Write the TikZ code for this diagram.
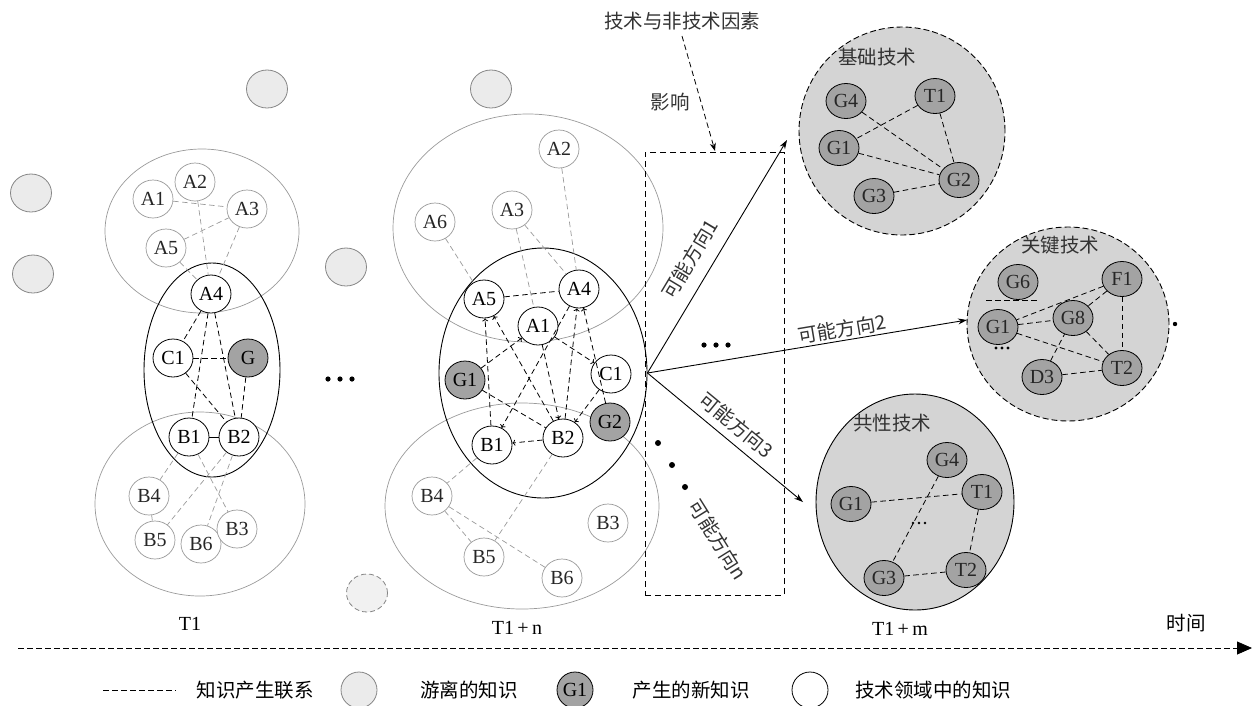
\documentclass[tikz,border=0pt]{standalone}
\usepackage{fontspec}
\setmainfont{Liberation Serif}
\newfontfamily\cjk{Noto Sans CJK SC}
\usetikzlibrary{shapes.geometric,arrows.meta}
\definecolor{freefill}{HTML}{EBEBEB}
\definecolor{freeline}{HTML}{858585}
\definecolor{softline}{HTML}{9A9A9A}
\definecolor{newfill}{HTML}{A3A3A3}
\definecolor{techfill}{HTML}{D4D4D4}
\tikzset{
  lbl/.style={font=\fontsize{20}{22}\selectfont},
  zh/.style={font=\cjk\fontsize{19.5}{21}\selectfont, text=black!80},
  know/.style={ellipse, draw=black, line width=0.8pt, minimum width=40pt, minimum height=38pt, inner sep=0pt, lbl, fill=white},
  far/.style={ellipse, draw=softline, line width=0.7pt, minimum width=40pt, minimum height=38pt, inner sep=0pt, lbl, fill=white, text=black!85},
  newk/.style={know, fill=newfill},
  tech/.style={ellipse, draw=black, line width=0.8pt, minimum width=40pt, minimum height=35pt, inner sep=0pt, lbl, fill=newfill, text=black!85},
  free/.style={ellipse, draw=freeline, line width=0.8pt, fill=freefill, minimum width=41pt, minimum height=38pt},
  field/.style={ellipse, draw=softline, line width=0.7pt, inner sep=0pt},
  core/.style={ellipse, draw=black, line width=0.9pt, inner sep=0pt},
  techzone/.style={ellipse, draw=black, line width=0.9pt, fill=techfill, inner sep=0pt},
  link/.style={draw=black, line width=0.8pt, dash pattern=on 5.5pt off 3.5pt},
  glink/.style={draw=softline, line width=0.7pt, dash pattern=on 5.5pt off 3.5pt},
  tipend/.style={-{To[length=3pt,width=6pt]}},
  way/.style={draw=black, line width=0.9pt, -{Stealth[length=9pt,width=6pt]}},
}
\begin{document}
\begin{tikzpicture}[x=1pt,y=-1pt]
\useasboundingbox (0,0) rectangle (1252,705);

% ---------- stray knowledge ----------
\node[free] (f1) at (31,193) {};
\node[free] (f2) at (33,274) {};
\node[free] (f3) at (346,267) {};
\node[free] (f4) at (267,89) {};
\node[free] (f5) at (491,89) {};
\node[free, dash pattern=on 5pt off 3pt, fill=freefill!70] (f6) at (367,593) {};

% ---------- stage T1 ----------
\node[field, minimum width=194pt, minimum height=164pt] (lA) at (202,231) {};
\node[field, minimum width=210pt, minimum height=184pt] (lB) at (200,504) {};
\node[core, minimum width=136pt, minimum height=214pt] (lC) at (212,370) {};

\node[far] (lA1) at (153,199) {A1};
\node[far] (lA2) at (195,182) {A2};
\node[far] (lA3) at (247,209) {A3};
\node[far] (lA5) at (166,248) {A5};
\node[know] (lA4) at (211,294) {A4};
\node[know] (lC1) at (173,358) {C1};
\node[newk] (lG) at (248,358) {G};
\node[know] (lB1) at (189,437) {B1};
\node[know] (lB2) at (239,437) {B2};
\node[far] (lB4) at (149,496) {B4};
\node[far] (lB5) at (155,540) {B5};
\node[far] (lB6) at (201,544) {B6};
\node[far] (lB3) at (237,529) {B3};

\draw[glink] (lA1) -- (lA3);
\draw[glink] (lA2) -- (lA4);
\draw[glink] (lA5) -- (lA3);
\draw[glink] (lA3) -- (lA4);
\draw[glink] (lA5) -- (lA4);
\draw[link] (lA4) -- (lC1);
\draw[link] (lA4) -- (lB1);
\draw[link] (lA4) -- (lB2);
\draw[link] (lC1) -- (lG);
\draw[link] (lC1) -- (lB2);
\draw[link] (lG) -- (lB2);
\draw[black, line width=0.8pt] (lB1) -- (lB2);
\draw[glink] (lB1) -- (lB4);
\draw[glink] (lB1) -- (lB3);
\draw[glink] (lB2) -- (lB5);
\draw[glink] (lB2) -- (lB6);
\draw[glink] (lB4) -- (lB5);

\node[lbl] (tA) at (190,624) {T1};
\fill (328,379) circle (2.6pt) (340,379) circle (2.6pt) (352,379) circle (2.6pt);

% ---------- stage T1+n ----------
\node[field, minimum width=270pt, minimum height=228pt] (mA) at (528,228) {};
\node[field, minimum width=274pt, minimum height=206pt] (mB) at (522,506) {};
\node[core, minimum width=208pt, minimum height=250pt] (mC) at (543,373) {};

\node[far] (mA2) at (559,149) {A2};
\node[far] (mA6) at (435,222) {A6};
\node[far] (mA3) at (512,210) {A3};
\node[know] (mA4) at (579,289) {A4};
\node[know] (mA5) at (484,299) {A5};
\node[know] (mA1) at (538,326) {A1};
\node[know] (mC1) at (611,374) {C1};
\node[newk] (mG1) at (465,380) {G1};
\node[newk] (mG2) at (610,422) {G2};
\node[know] (mB2) at (563,438) {B2};
\node[know] (mB1) at (492,445) {B1};
\node[far] (mB4) at (432,496) {B4};
\node[far] (mB5) at (484,557) {B5};
\node[far] (mB3) at (608,523) {B3};
\node[far] (mB6) at (562,578) {B6};

\draw[glink] (mA2) -- (mA4);
\draw[glink] (mA6) -- (mA5);
\draw[glink] (mA3) -- (mA4);
\draw[glink] (mA3) -- (mA1);
\draw[link] (mA5) -- (mA4);
\draw[link, tipend] (mB1) -- (mA5);
\draw[link, tipend] (mB2) -- (mA5);
\draw[link, tipend] (mG1) -- (mA1);
\draw[link, tipend] (mA1) -- (mC1);
\draw[link, tipend] (mA1) -- (mB2);
\draw[link, tipend] (mA4) -- (mB1);
\draw[link, tipend] (mB2) -- (mA4);
\draw[link, tipend] (mG2) -- (mA4);
\draw[link, tipend] (mC1) -- (mB2);
\draw[link] (mG1) -- (mB2);
\draw[link, tipend] (mB2) -- (mB1);
\draw[glink] (mB1) -- (mB4);
\draw[glink] (mB4) -- (mB5);
\draw[glink] (mB4) -- (mB6);
\draw[glink] (mB2) -- (mB5);

\node[lbl] (tB) at (517,628) {T1\,+\,n};

% ---------- influence box and directions ----------
\node[draw=black, line width=0.9pt, dash pattern=on 6pt off 4pt, minimum width=139pt, minimum height=443pt, inner sep=0pt] (box) at (714.5,373.5) {};
\node[zh] (factor) at (682,21) {技术与非技术因素};
\node[zh] (effect) at (670,102) {影响};
\coordinate (factorfoot) at (682,36);
\coordinate (boxtop) at (715,151);
\draw[link, -{Stealth[length=8pt,width=6pt]}] (factorfoot) -- (boxtop);

\coordinate (e1) at (787,140);
\coordinate (e2) at (967,320);
\coordinate (e3) at (803,502);
\draw[way] (mC.east) -- (e1);
\draw[way] (mC.east) -- (e2);
\draw[way] (mC.east) -- (e3);
\node[zh, rotate=59] (w1) at (690,259) {可能方向1};
\node[zh, rotate=9.6] (w2) at (842,329) {可能方向2};
\node[zh, rotate=-39.5] (w3) at (736,425) {可能方向3};
\node[zh, rotate=-58] (wn) at (718,540) {可能方向n};
\fill (704,345) circle (2.6pt) (716,345) circle (2.6pt) (728,345) circle (2.6pt);
\fill (658,443) circle (3pt) (672,465) circle (3pt) (685,487) circle (3pt);

% ---------- basic technology ----------
\node[techzone, dash pattern=on 6pt off 3pt, minimum width=206pt, minimum height=208pt] (bD) at (902,131) {};
\node[zh] (bT) at (877,57) {基础技术};
\node[tech] (bG4) at (846,101) {G4};
\node[tech] (bT1) at (935,96) {T1};
\node[tech] (bG1) at (839,148) {G1};
\node[tech] (bG2) at (959,180) {G2};
\node[tech] (bG3) at (874,196) {G3};
\draw[link] (bG4) -- (bG2);
\draw[link] (bT1) -- (bG1);
\draw[link] (bT1) -- (bG2);
\draw[link] (bG1) -- (bG2);
\draw[link] (bG3) -- (bG2);

% ---------- key technology ----------
\node[techzone, dash pattern=on 6pt off 3pt, minimum width=202pt, minimum height=194pt] (kD) at (1068,324) {};
\node[zh] (kT) at (1060,245) {关键技术};
\node[tech] (kG6) at (1018,282) {G6};
\node[tech] (kF1) at (1122,279) {F1};
\node[tech] (kG8) at (1073,318) {G8};
\node[tech] (kG1) at (998,327) {G1};
\node[tech] (kD3) at (1042,377) {D3};
\node[tech] (kT2) at (1122,368) {T2};
\coordinate (kbarL) at (986,300);
\coordinate (kbarR) at (1039,300);
\draw[link] (kbarL) -- (kbarR);
\draw[link] (kF1) -- (kG1);
\draw[link] (kF1) -- (kG8);
\draw[link] (kF1) -- (kT2);
\draw[link] (kG8) -- (kT2);
\draw[link] (kG1) -- (kG8);
\draw[link] (kG1) -- (kT2);
\draw[link] (kD3) -- (kG8);
\draw[link] (kD3) -- (kT2);
\fill (996,348) circle (1.6pt) (1002,348) circle (1.6pt) (1008,348) circle (1.6pt);
\fill (1175,324) circle (2.2pt);

% ---------- generic technology ----------
\node[techzone, minimum width=198pt, minimum height=216pt] (cD) at (915,502) {};
\node[zh] (cT) at (892,423) {共性技术};
\node[tech] (cG4) at (947,460) {G4};
\node[tech] (cT1) at (982,492) {T1};
\node[tech] (cG1) at (851,504) {G1};
\node[tech] (cT2) at (966,570) {T2};
\node[tech] (cG3) at (884,578) {G3};
\draw[link] (cG1) -- (cT1);
\draw[link] (cG4) -- (cG3);
\draw[link] (cT1) -- (cT2);
\draw[link] (cG3) -- (cT2);
\fill (913,523) circle (1.4pt) (919,523) circle (1.4pt) (925,523) circle (1.4pt);

\node[lbl] (tC) at (900,629) {T1\,+\,m};

% ---------- time axis ----------
\coordinate (tstart) at (18,648);
\coordinate (tend) at (1252,648);
\draw[link, -{Triangle[length=15pt,width=13pt]}] (tstart) -- (tend);
\node[zh, text=black] (time) at (1186,623) {时间};

% ---------- legend ----------
\coordinate (lgA) at (103,690);
\coordinate (lgB) at (176,690);
\draw[link] (lgA) -- (lgB);
\node[zh, text=black] (lg1) at (255,690) {知识产生联系};
\node[free, minimum width=36pt, minimum height=36pt] (lgc1) at (359,690) {};
\node[zh, text=black] (lg2) at (469,690) {游离的知识};
\node[newk, minimum width=36pt, minimum height=36pt] (lgc2) at (575,690) {G1};
\node[zh, text=black] (lg3) at (691,690) {产生的新知识};
\node[know, minimum width=36pt, minimum height=36pt] (lgc3) at (810,690) {};
\node[zh, text=black] (lg4) at (933,690) {技术领域中的知识};
\end{tikzpicture}
\end{document}
